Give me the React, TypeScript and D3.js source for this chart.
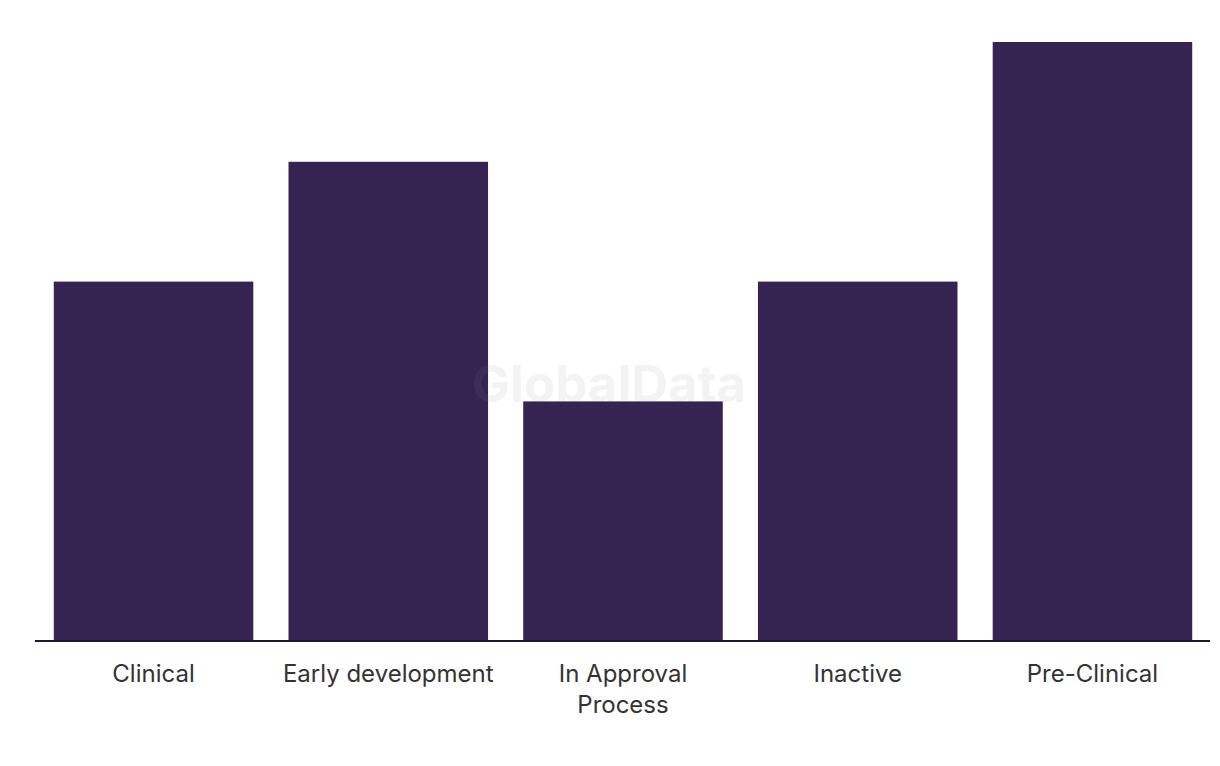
import React from "react";
import * as d3 from "d3";

const categories = ["Clinical", "Early development", "In Approval Process", "Inactive", "Pre-Clinical"];
const labelLines = [["Clinical"], ["Early development"], ["In Approval", "Process"], ["Inactive"], ["Pre-Clinical"]];
const values = [3, 4, 2, 3, 5];

const W = 1220;
const H = 766;

export default function App() {
  const x = d3.scaleBand<string>().domain(categories).range([35, 1211]).paddingInner(0.15).paddingOuter(0.08);
  const y = d3.scaleLinear().domain([0, 5]).range([641, 42]);
  return (
    <svg width={W} height={H} style={{ position: "absolute", left: 0, top: 0, background: "#fff" }}>
      {categories.map((c, i) => (
        <rect key={c} x={x(c)} y={y(values[i])} width={x.bandwidth()} height={y(0) - y(values[i])} fill="#352452" />
      ))}
      <text x={609} y={402} textAnchor="middle" fontFamily="Inter, 'Noto Sans', sans-serif" fontWeight={700} fontSize={51} fill="#8c8c8c" fillOpacity={0.1}>GlobalData</text>
      <line x1={35} x2={1210} y1={641} y2={641} stroke="#1c1a2e" strokeWidth={2} />
      {categories.map((c, i) => (
        <text key={c} x={(x(c) as number) + x.bandwidth() / 2} y={682} textAnchor="middle" fontFamily="Inter, 'Noto Sans', sans-serif" fontSize={24} fill="#333">
          {labelLines[i].map((l, j) => (
            <tspan key={j} x={(x(c) as number) + x.bandwidth() / 2} dy={j === 0 ? 0 : 31}>{l}</tspan>
          ))}
        </text>
      ))}
    </svg>
  );
}
